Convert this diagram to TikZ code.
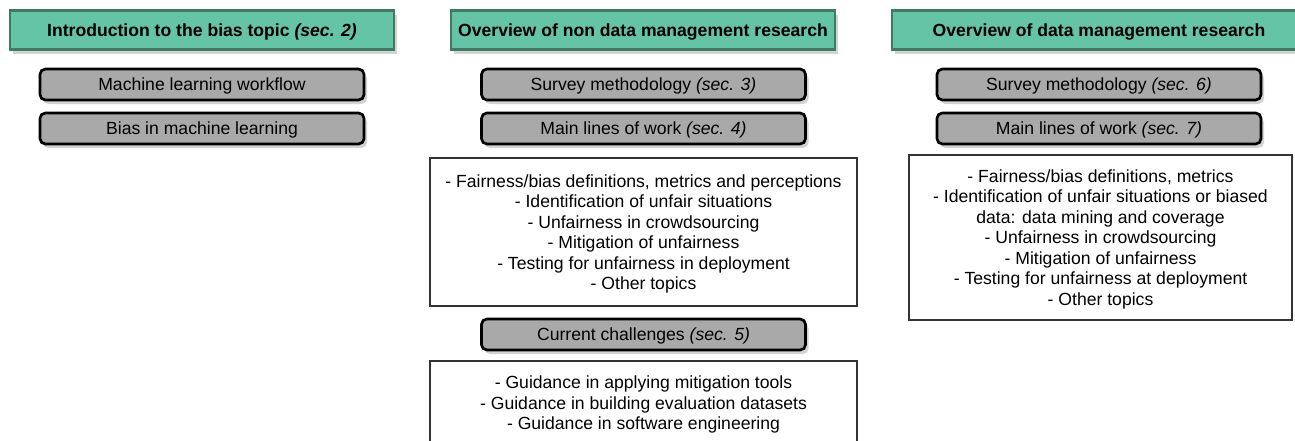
\documentclass[tikz,border=0pt]{standalone}
\usepackage{fontspec}
\setmainfont{Liberation Sans}
\usetikzlibrary{shadows,positioning}

\definecolor{headfill}{HTML}{66C4A6}
\definecolor{headline}{HTML}{3F7B63}
\definecolor{topicfill}{HTML}{A9A9A9}
\definecolor{shadowgray}{HTML}{D3D3D3}
\definecolor{listline}{HTML}{333333}

\newcommand{\boxfont}{\fontsize{13.2}{15.4}\selectfont}

\tikzset{
  header/.style={draw=headline,line width=1.6pt,fill=headfill,inner sep=0pt,
    minimum height=29.25pt,text depth=0pt,font=\boxfont\bfseries,
    drop shadow={shadow xshift=2.25pt,shadow yshift=-3pt,fill=shadowgray,opacity=1}},
  topic/.style={draw=black,line width=2pt,fill=topicfill,rounded corners=4pt,inner sep=0pt,
    minimum width=243pt,minimum height=23.25pt,text depth=0pt,font=\boxfont,
    drop shadow={shadow xshift=2.25pt,shadow yshift=-3pt,fill=shadowgray,opacity=1}},
  listbox/.style={draw=listline,line width=1pt,fill=white,inner sep=0pt,align=center,
    text depth=0pt,font=\boxfont}
}

\begin{document}
\begin{tikzpicture}[x=0.75pt,y=-0.75pt]

    \useasboundingbox (0,0) rectangle (1295,440);

    % headers
    \node[header,minimum width=288pt] (intro) at (202,30) {Introduction to the bias topic \textit{(sec. 2)}};
    \node[header,minimum width=288pt] (nondm) at (643,30) {Overview of non data management research};
    \node[header,minimum width=310pt] (dm) at (1099,30) {Overview of data management research};

    % left column
    \node[topic] (mlflow) at (202,84.5) {Machine learning workflow};
    \node[topic] (mlbias) at (202,128.5) {Bias in machine learning};

    % middle column
    \node[topic] (nondmsurvey) at (643.5,84.5) {Survey methodology \textit{(sec. 3)}};
    \node[topic] (nondmlines) at (643.5,128.5) {Main lines of work \textit{(sec. 4)}};
    \node[listbox,minimum width=320.25pt,minimum height=111pt] (nondmlist) at (643.5,232)
      {- Fairness/bias definitions, metrics and perceptions\\
       - Identification of unfair situations\\
       - Unfairness in crowdsourcing\\
       - Mitigation of unfairness\\
       - Testing for unfairness in deployment\\
       - Other topics};
    \node[topic] (challenges) at (643.5,334.5) {Current challenges \textit{(sec. 5)}};
    \node[listbox,minimum width=320.25pt,minimum height=63pt] (challlist) at (643.5,403)
      {- Guidance in applying mitigation tools\\
       - Guidance in building evaluation datasets\\
       - Guidance in software engineering};

    % right column
    \node[topic] (dmsurvey) at (1099,84.5) {Survey methodology \textit{(sec. 6)}};
    \node[topic] (dmlines) at (1099,128.5) {Main lines of work \textit{(sec. 7)}};
    \node[listbox,minimum width=287.25pt,minimum height=123.75pt] (dmlist) at (1100.5,237.5)
      {- Fairness/bias definitions, metrics\\
       - Identification of unfair situations or biased\\
       data: data mining and coverage\\
       - Unfairness in crowdsourcing\\
       - Mitigation of unfairness\\
       - Testing for unfairness at deployment\\
       - Other topics};

\end{tikzpicture}
\end{document}
